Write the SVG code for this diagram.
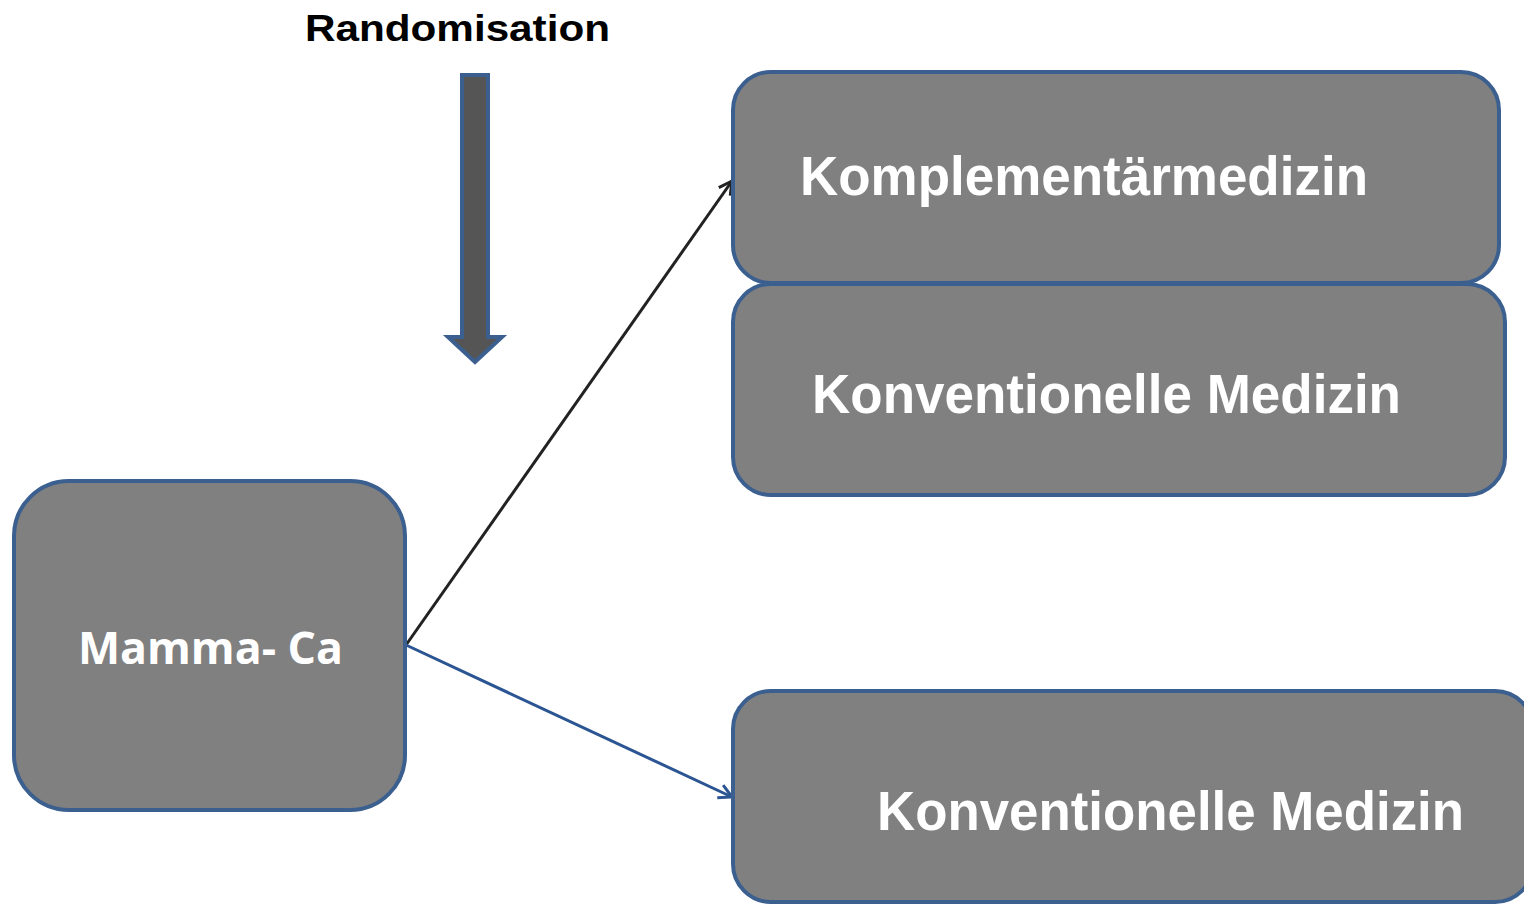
<svg xmlns="http://www.w3.org/2000/svg" width="1524" height="904" viewBox="0 0 1524 904">
<style>
.box{fill:#808080;stroke:#3b5f8f;stroke-width:4}
.lbl{font-family:"Liberation Sans",Arial,sans-serif;font-weight:bold;fill:#ffffff;font-size:56px}
.title{font-family:"Liberation Sans",Arial,sans-serif;font-weight:bold;fill:#000000;font-size:37px}
.mc{font-family:"Open Sans","Liberation Sans",sans-serif;font-weight:bold;fill:#ffffff;font-size:45px}
</style>
<defs>
<marker id="ab" markerWidth="18" markerHeight="18" refX="15" refY="9" orient="auto" markerUnits="userSpaceOnUse">
<path d="M2,2 L15,9 L2,16" fill="none" stroke="#222222" stroke-width="3"/>
</marker>
<marker id="ablue" markerWidth="18" markerHeight="18" refX="15" refY="9" orient="auto" markerUnits="userSpaceOnUse">
<path d="M2,2 L15,9 L2,16" fill="none" stroke="#2b5592" stroke-width="3"/>
</marker>
</defs>
<g id="randomisation">
<text class="title" x="305" y="41" textLength="305" lengthAdjust="spacingAndGlyphs">Randomisation</text>
<path d="M462,75 L488,75 L488,337 L502,337 L475,362 L448,337 L462,337 Z" fill="#555555" stroke="#3b5f8f" stroke-width="4"/>
</g>
<g id="connectors">
<line x1="406" y1="645" x2="732" y2="181" stroke="#222222" stroke-width="3" marker-end="url(#ab)"/>
<line x1="406" y1="645" x2="732" y2="797" stroke="#2b5592" stroke-width="3" marker-end="url(#ablue)"/>
</g>
<g id="mamma">
<rect class="box" x="14" y="481" width="391" height="329" rx="55"/>
<text class="mc" x="78" y="664" textLength="265" lengthAdjust="spacingAndGlyphs">Mamma- Ca</text>
</g>
<g id="komplementaer">
<rect class="box" x="733" y="72" width="766" height="211" rx="38"/>
<text class="lbl" x="800" y="195" textLength="568" lengthAdjust="spacingAndGlyphs">Komplementärmedizin</text>
</g>
<g id="konventionell1">
<rect class="box" x="733" y="284" width="772" height="211" rx="38"/>
<text class="lbl" x="812" y="413" textLength="589" lengthAdjust="spacingAndGlyphs">Konventionelle Medizin</text>
</g>
<g id="konventionell2">
<rect class="box" x="733" y="691" width="800" height="211" rx="38"/>
<text class="lbl" x="877" y="830" textLength="587" lengthAdjust="spacingAndGlyphs">Konventionelle Medizin</text>
</g>
</svg>
